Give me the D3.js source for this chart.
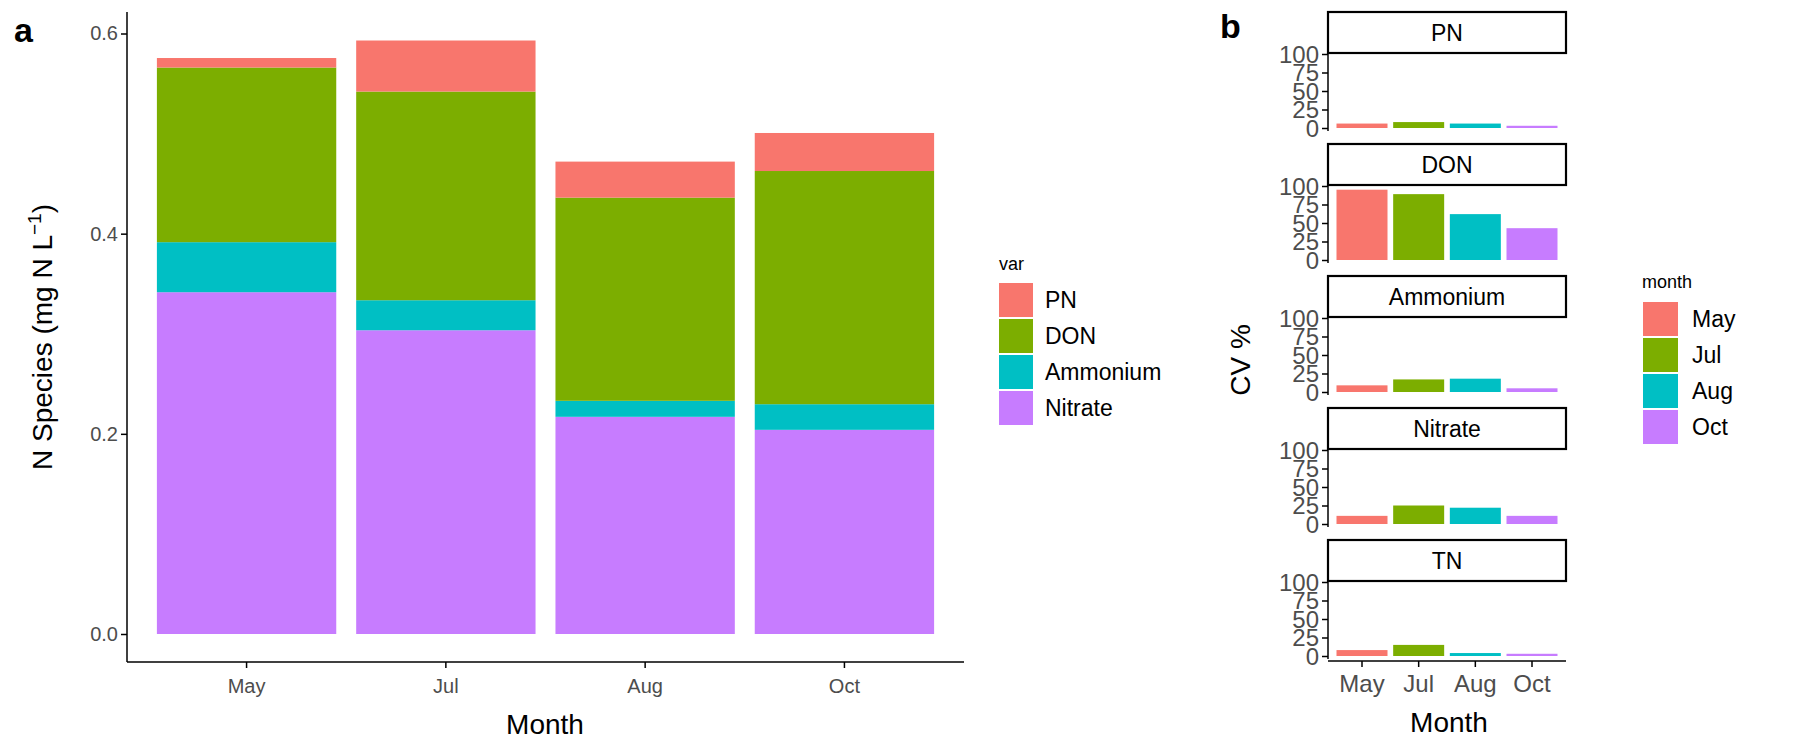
<!DOCTYPE html>
<html><head><meta charset="utf-8">
<script src="https://cdn.jsdelivr.net/npm/d3@7"></script>
<style>body{margin:0;background:#fff}svg{font-family:Arial,"Liberation Sans",sans-serif}</style>
</head><body><svg id="c" width="1800" height="750"></svg>
<script>
const months = ["May","Jul","Aug","Oct"];
const species = ["PN","DON","Ammonium","Nitrate"];
const nitrate = [0.3415,0.3035,0.217,0.204];
const ammonium = [0.050,0.030,0.016,0.0256];
const don = [0.1745,0.2085,0.203,0.233];
const pn = [0.0095,0.051,0.036,0.038];
const cvPanels = ["PN","DON","Ammonium","Nitrate","TN"];
const cvPN = [6,8,6,3];
const cvDON = [95,89,62,43];
const cvAmm = [9,17,18,5];
const cvNit = [11,25,22,11];
const cvTN = [8,15,4,3];
const yTicksA = [0,0.2,0.4,0.6];
const yTicksB = [0,25,50,75,100];

const speciesColor = {PN:"#F8766D",DON:"#7CAE00",Ammonium:"#00BFC4",Nitrate:"#C77CFF"};
const monthColor = d3.scaleOrdinal(months,["#F8766D","#7CAE00","#00BFC4","#C77CFF"]);
const svg = d3.select("#c");
const tickCol="#4d4d4d";

// Panel a
const xA = d3.scaleBand(months,[127,964]).paddingInner(0.1).paddingOuter(0.15);
const yA = d3.scaleLinear([0,0.6],[634,33.5]);
const stackData = months.map((m,i)=>({month:m,Nitrate:nitrate[i],Ammonium:ammonium[i],DON:don[i],PN:pn[i]}));
const stacked = d3.stack().keys(["Nitrate","Ammonium","DON","PN"])(stackData);
svg.append("g").selectAll("g").data(stacked).join("g").attr("fill",d=>speciesColor[d.key])
 .selectAll("rect").data(d=>d).join("rect")
 .attr("x",d=>xA(d.data.month)).attr("width",xA.bandwidth())
 .attr("y",d=>yA(d[1])).attr("height",d=>yA(d[0])-yA(d[1]));
const gyA = svg.append("g").attr("transform","translate(127,0)")
 .call(d3.axisLeft(yA).tickValues(yTicksA).tickFormat(d3.format(".1f")).tickSize(6).tickSizeOuter(0));
gyA.select(".domain").attr("d","M0,12V662");
const gxA = svg.append("g").attr("transform","translate(0,662)")
 .call(d3.axisBottom(xA).tickSize(6).tickSizeOuter(0));
gxA.select(".domain").attr("d","M127,0H964");
[gyA,gxA].forEach(g=>{g.attr("font-size",20);g.selectAll(".domain,.tick line").attr("stroke","#000").attr("stroke-width",1.5);
 g.selectAll("text").attr("fill",tickCol).style("font-size","20px");});
gxA.selectAll("text").attr("dy","1.1em");
svg.append("text").attr("x",14).attr("y",42).text("a").style("font-size","34px").style("font-weight","bold");
svg.append("text").attr("transform","translate(52,337) rotate(-90)").attr("text-anchor","middle").style("font-size","28px")
 .html('N Species (mg N L<tspan dy="-11" font-size="19">−1</tspan><tspan dy="11">)</tspan>');
svg.append("text").attr("x",545).attr("y",734).attr("text-anchor","middle").style("font-size","28px").text("Month");
// legend a
svg.append("text").attr("x",999).attr("y",270).style("font-size","18px").text("var");
species.forEach((s,i)=>{
 svg.append("rect").attr("x",999).attr("y",283+i*36).attr("width",34).attr("height",34).attr("fill",speciesColor[s]);
 svg.append("text").attr("x",1045).attr("y",308+i*36).style("font-size","23px").text(s);
});

// Panel b
const cvData = [cvPN,cvDON,cvAmm,cvNit,cvTN];
const xB = d3.scaleBand(months,[1328,1566]).paddingInner(0.1).paddingOuter(0.15);
cvPanels.forEach((p,k)=>{
 const off=k*132;
 const yB = d3.scaleLinear([0,100],[128+off,54+off]);
 svg.append("rect").attr("x",1328).attr("y",12+off).attr("width",238).attr("height",41)
  .attr("fill","#fff").attr("stroke","#000").attr("stroke-width",2.2);
 svg.append("text").attr("x",1447).attr("y",41+off).attr("text-anchor","middle").style("font-size","23px").text(p);
 svg.append("g").selectAll("rect").data(months).join("rect")
  .attr("x",m=>xB(m)).attr("width",xB.bandwidth())
  .attr("y",(m,i)=>yB(cvData[k][i])).attr("height",(m,i)=>yB(0)-yB(cvData[k][i]))
  .attr("fill",m=>monthColor(m));
 const g = svg.append("g").attr("transform","translate(1328,0)")
  .call(d3.axisLeft(yB).tickValues(yTicksB).tickSize(6).tickSizeOuter(0));
 g.select(".domain").attr("d",`M0,${53+off}V${131+off}`);
 g.selectAll(".domain,.tick line").attr("stroke","#000").attr("stroke-width",1.5);
 g.selectAll("text").attr("fill",tickCol).style("font-size","24px").attr("dy","0.35em");
});
const gxB = svg.append("g").attr("transform","translate(0,661)")
 .call(d3.axisBottom(xB).tickSize(6).tickSizeOuter(0));
gxB.select(".domain").attr("d","M1328,0H1566");
gxB.selectAll(".domain,.tick line").attr("stroke","#000").attr("stroke-width",1.5);
gxB.selectAll("text").attr("fill",tickCol).style("font-size","24px").attr("dy","0.9em");
svg.append("text").attr("x",1220).attr("y",38).text("b").style("font-size","34px").style("font-weight","bold");
svg.append("text").attr("transform","translate(1250,360) rotate(-90)").attr("text-anchor","middle").style("font-size","28px").text("CV %");
svg.append("text").attr("x",1449).attr("y",732).attr("text-anchor","middle").style("font-size","28px").text("Month");
svg.append("text").attr("x",1642).attr("y",288).style("font-size","18px").text("month");
months.forEach((m,i)=>{
 svg.append("rect").attr("x",1643).attr("y",302+i*36).attr("width",35).attr("height",34).attr("fill",monthColor(m));
 svg.append("text").attr("x",1692).attr("y",327+i*36).style("font-size","23px").text(m);
});
</script></body></html>
